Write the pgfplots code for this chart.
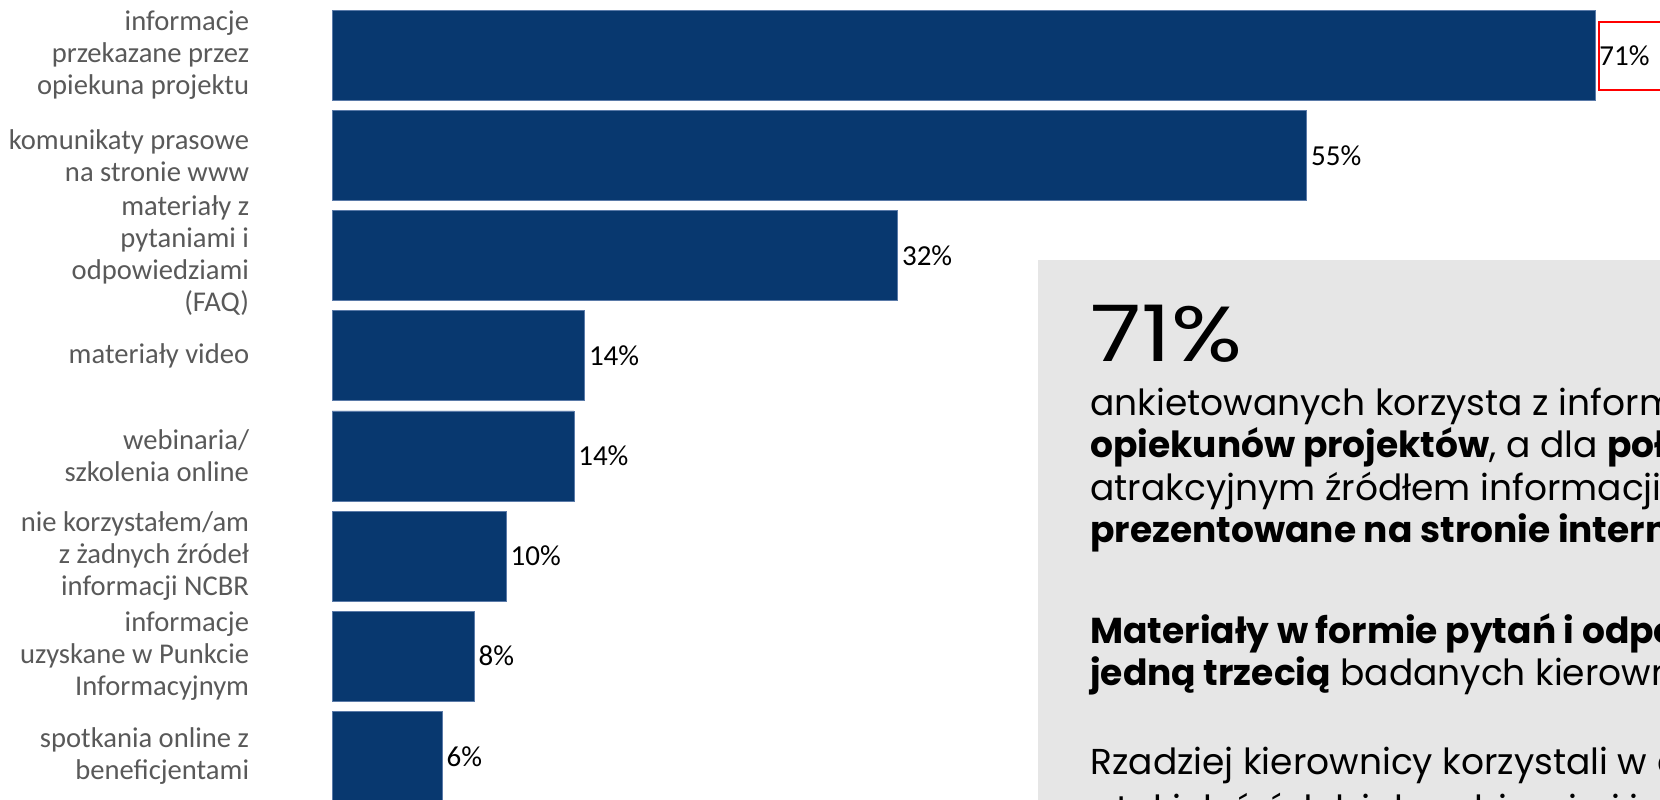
\documentclass[border=0pt]{standalone}
\usepackage{fontspec}
\setmainfont{Carlito}
\newfontfamily\boxfont{Poppins}
\usepackage{pgfplots}
\pgfplotsset{compat=1.18}
\definecolor{barblue}{HTML}{08386F}
\definecolor{baredge}{HTML}{5A7AA8}
\definecolor{labgray}{HTML}{595959}
\definecolor{boxgray}{HTML}{E6E6E6}

\begin{document}
\begin{tikzpicture}
\useasboundingbox (0pt,0pt) rectangle (830pt,-399.5pt);
\clip (0pt,0pt) rectangle (830pt,-399.5pt);
\begin{axis}[
  at={(166pt,0pt)}, anchor=north west,
  scale only axis, width=631.5pt, height=399.5pt,
  xbar, bar width=45pt,
  xmin=0, xmax=71, ymin=-0.555, ymax=7.427,
  y dir=reverse,
  axis line style={draw=none}, tick style={draw=none},
  xtick=\empty,
  ytick={0,...,7},
  yticklabels={
    {informacje\\przekazane przez\\opiekuna projektu},
    {komunikaty prasowe\\na stronie www},
    {materiały z\\pytaniami i\\odpowiedziami\\(FAQ)},
    {materiały video},
    {webinaria/\\szkolenia online},
    {nie korzystałem/am\\z żadnych źródeł\\informacji NCBR},
    {informacje\\uzyskane w Punkcie\\Informacyjnym},
    {spotkania online z\\beneficjentami}},
  y tick label style={align=right, font=\fontsize{14.3}{16}\selectfont,
    text=labgray, inner sep=0pt, xshift=-37pt},
  clip=false,
  point meta=x,
  /pgf/number format/assume math mode=true,
  nodes near coords={\pgfmathprintnumber[fixed,precision=0]{\pgfplotspointmeta}\%},
  every node near coord/.append style={font=\fontsize{14.5}{16}\selectfont,
    text=black, inner sep=2pt},
]
\addplot[fill=barblue, draw=baredge, line width=0.4pt] coordinates {
  (71,0) (54.8,1) (31.8,2) (14.2,3) (13.6,4) (9.8,5) (8.0,6) (6.2,7)};
\end{axis}

% highlight of the top value
\draw[red, line width=0.8pt] (799.5pt,-11pt) rectangle (850pt,-45pt);

% comment panel
\fill[boxgray] (518.75pt,-130pt) rectangle (850pt,-420pt);
\begin{scope}[every node/.style={anchor=base west, inner sep=0pt,
    font=\boxfont\fontsize{18}{21}\selectfont}]
\node[font=\boxfont\fontsize{39}{40}\selectfont] at (545pt,-180.5pt) {\scalebox{1.2}[1]{71\%}};
\node at (545pt,-207.5pt) {ankietowanych korzysta z informacji od};
\node at (545pt,-228.5pt) {\textbf{opiekunów projektów}, a dla \textbf{połowy} z nich};
\node at (545pt,-250pt) {atrakcyjnym źródłem informacji są komunikaty};
\node at (545pt,-271pt) {\textbf{prezentowane na stronie internetowej}.};
\node at (545pt,-321.5pt) {\textbf{Materiały w formie pytań i odpowiedzi} zainteresowały};
\node at (545pt,-342.5pt) {\textbf{jedną trzecią} badanych kierowników.};
\node at (545pt,-387pt) {Rzadziej kierownicy korzystali w czasie realizacji};
\node at (545pt,-410.5pt) {z takich źródeł, jak webinaria i informacje};
\end{scope}
\end{tikzpicture}
\end{document}
